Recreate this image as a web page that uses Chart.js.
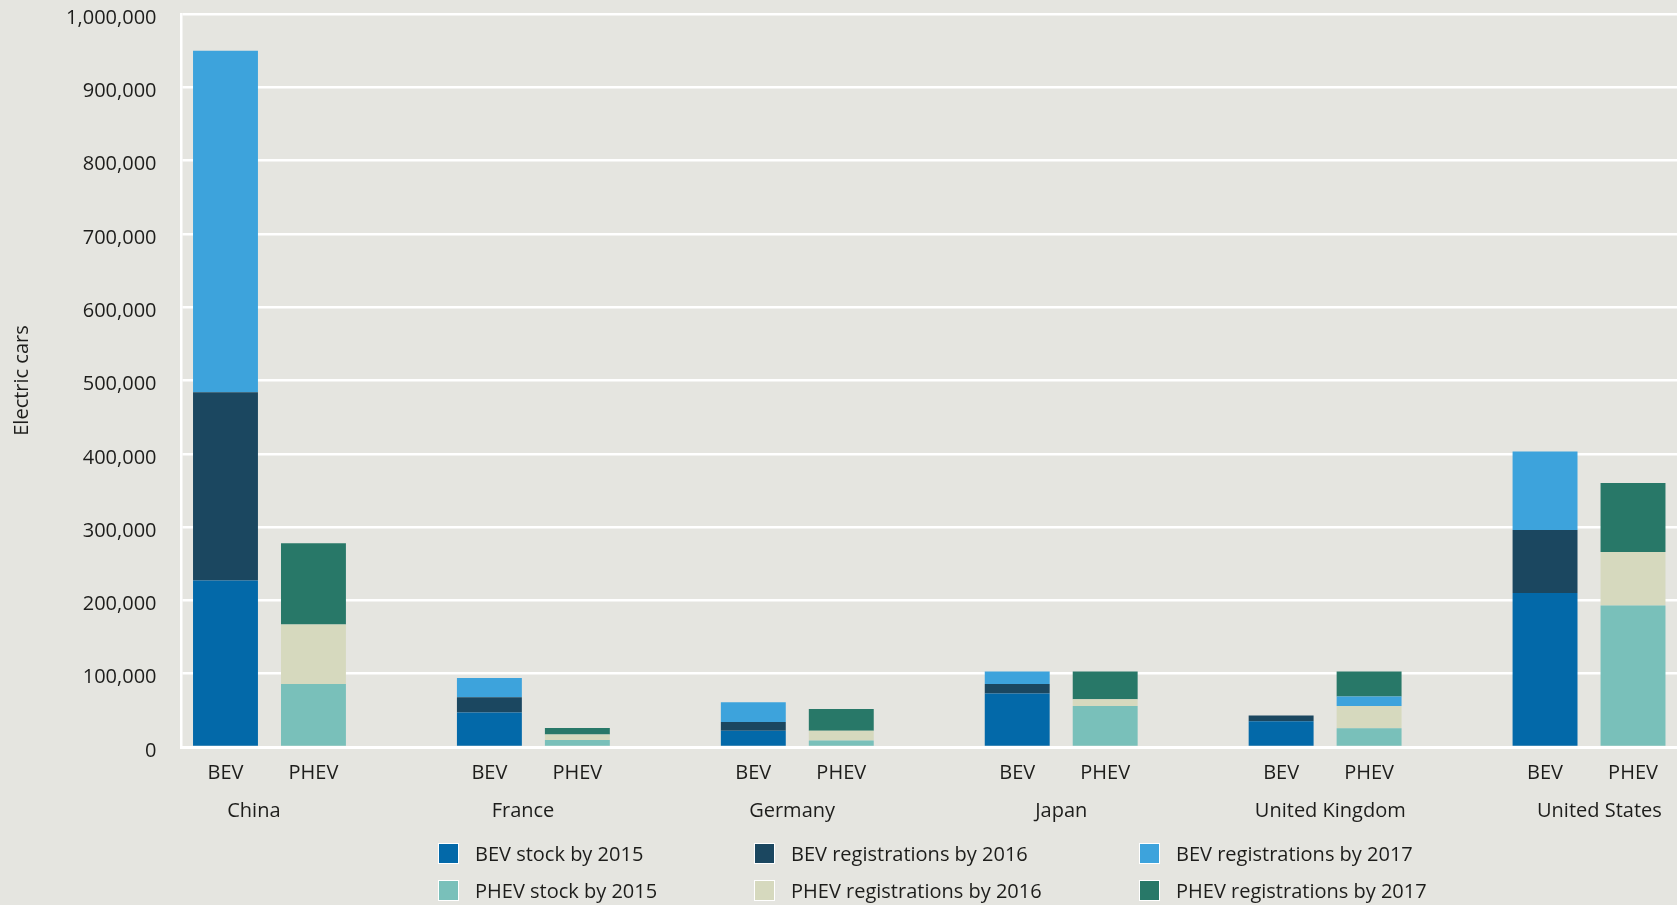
<!DOCTYPE html>
<html>
<head>
<meta charset="utf-8">
<script src="https://cdn.jsdelivr.net/npm/chart.js@4.4.1/dist/chart.umd.min.js"></script>
<style>
html,body{margin:0;padding:0;background:#e5e5e0;}
#wrap{position:relative;width:1677px;height:905px;background:#e5e5e0;}
#legend{position:absolute;left:0;top:0;width:100%;height:100%;pointer-events:none;font-family:'Open Sans',sans-serif;font-size:20px;color:#1d1d1b;}
.item{position:absolute;display:flex;align-items:center;height:24px;white-space:nowrap;}
.box{width:19px;height:19px;border:1.5px solid #fff;margin-right:16px;box-sizing:content-box;}
</style>
</head>
<body>
<div id="wrap">
  <canvas id="c" width="1677" height="905"></canvas>
  <div id="legend"></div>
</div>
<script>
// ---- data ----
const countries = ['China', 'France', 'Germany', 'Japan', 'United Kingdom', 'United States'];
const barTypes = ['BEV', 'PHEV'];
// segment sizes per bar, order: China BEV, China PHEV, France BEV, France PHEV, ...
const bevStock2015   = [227000, null, 47000, null, 22000, null, 73000, null, 35000, null, 210000, null];
const phevStock2015  = [null, 86000, null, 9500, null, 9000, null, 56000, null, 25500, null, 193000];
const bevReg2016     = [257000, null, 21000, null, 12000, null, 13000, null, 8000, null, 86000, null];
const phevReg2016    = [null, 81000, null, 7500, null, 13000, null, 9000, null, 30500, null, 73000];
const bevReg2017     = [466000, null, 26000, null, 27000, null, 17000, null, null, 13000, 107000, null];
const phevReg2017    = [null, 111000, null, 9000, null, 30000, null, 38000, null, 34000, null, 94000];
const yTicks = [0, 100000, 200000, 300000, 400000, 500000, 600000, 700000, 800000, 900000, 1000000];

const seriesNames = ['BEV stock by 2015', 'PHEV stock by 2015', 'BEV registrations by 2016',
                     'PHEV registrations by 2016', 'BEV registrations by 2017', 'PHEV registrations by 2017'];
const seriesColors = ['#0369a9', '#79c0ba', '#1b4760', '#d6d9be', '#3da3dc', '#287868'];
const seriesValues = [bevStock2015, phevStock2015, bevReg2016, phevReg2016, bevReg2017, phevReg2017];
const legendOrder = [0, 2, 4, 1, 3, 5];

// ---- build slots with a gap between countries ----
const labels = [];
countries.forEach((c, i) => {
  barTypes.forEach(t => labels.push(t));
  if (i < countries.length - 1) labels.push('');
});
function expand(arr) {
  const out = [];
  countries.forEach((c, i) => {
    out.push(arr[i * 2], arr[i * 2 + 1]);
    if (i < countries.length - 1) out.push(null);
  });
  return out;
}

const FONT = {family: "'Open Sans', sans-serif", size: 20};
const TXT = '#1d1d1b';

const datasets = seriesNames.map((n, i) => ({
  label: n,
  data: expand(seriesValues[i]),
  backgroundColor: seriesColors[i],
  borderWidth: 0,
  categoryPercentage: 1.0,
  barPercentage: 0.738
}));

// country group labels under the BEV/PHEV labels
const countryLabels = {
  id: 'countryLabels',
  afterDraw(chart) {
    const xs = chart.scales.x;
    const ctx = chart.ctx;
    ctx.save();
    ctx.font = "20px 'Open Sans', sans-serif";
    ctx.fillStyle = TXT;
    ctx.textAlign = 'center';
    ctx.textBaseline = 'middle';
    countries.forEach((c, i) => {
      const x = xs.getPixelForValue(0.323 + 3.059 * i);
      ctx.fillText(c, x, chart.chartArea.bottom + 64);
    });
    ctx.restore();
  }
};

new Chart(document.getElementById('c'), {
  type: 'bar',
  data: {labels, datasets},
  plugins: [countryLabels],
  options: {
    responsive: false,
    animation: false,
    events: [],
    layout: {padding: {top: 14, right: 0, bottom: 120, left: 0}},
    plugins: {legend: {display: false}, tooltip: {enabled: false}},
    scales: {
      x: {
        type: 'category',
        stacked: true,
        offset: true,
        afterFit: s => { s.height = 38; },
        grid: {display: false, drawTicks: false},
        border: {display: true, color: '#ffffff', width: 3},
        ticks: {font: FONT, color: TXT, padding: 14, autoSkip: false, maxRotation: 0}
      },
      y: {
        stacked: true,
        min: 0,
        max: 1000000,
        afterFit: s => { s.width = 181.5; s.paddingTop = 0; },
        afterBuildTicks: s => { s.ticks = yTicks.map(v => ({value: v})); },
        grid: {color: '#ffffff', lineWidth: 2.5, drawTicks: false},
        border: {display: true, color: '#ffffff', width: 2.5},
        ticks: {font: {family: FONT.family, size: 20, lineHeight: 0.4}, color: TXT, padding: 25,
                callback: v => ['', Number(v).toLocaleString('en-US')]},
        title: {display: true, text: 'Electric cars', font: FONT, color: TXT,
                padding: {top: 10, bottom: 0}}
      }
    }
  }
});

// ---- legend (3 columns x 2 rows) ----
const legendCols = [438, 754, 1139];
const legendRows = [841, 878];
const lg = document.getElementById('legend');
legendOrder.forEach((di, k) => {
  const col = k % 3, row = Math.floor(k / 3);
  const it = document.createElement('div');
  it.className = 'item';
  it.style.left = legendCols[col] + 'px';
  it.style.top = legendRows[row] + 'px';
  const b = document.createElement('span');
  b.className = 'box';
  b.style.background = seriesColors[di];
  const t = document.createElement('span');
  t.textContent = seriesNames[di];
  it.appendChild(b); it.appendChild(t);
  lg.appendChild(it);
});
</script>
</body>
</html>
